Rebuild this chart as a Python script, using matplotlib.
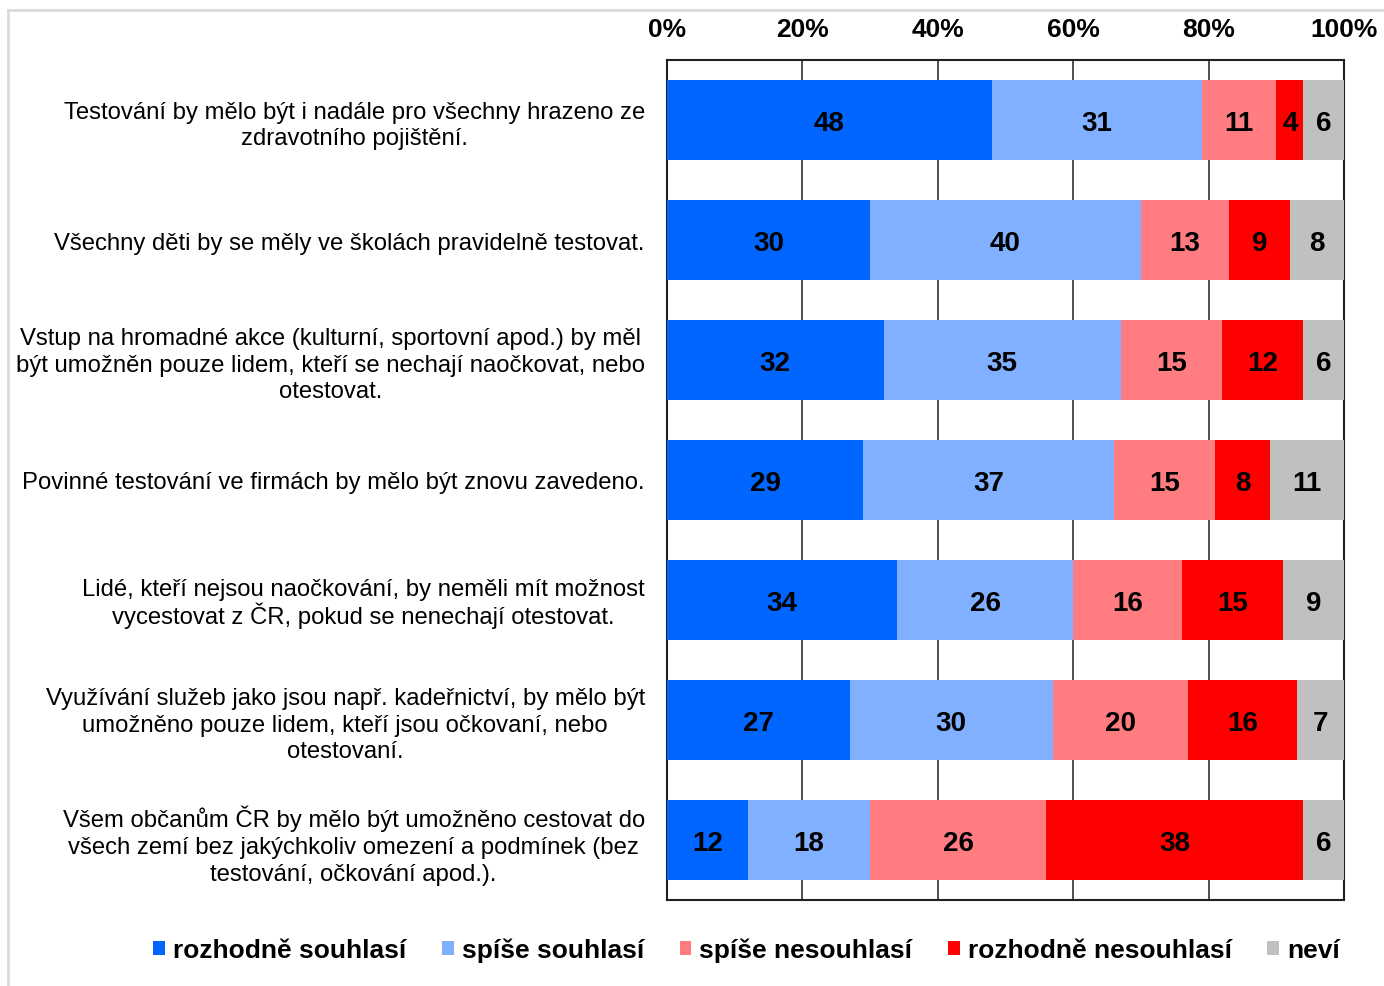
import matplotlib.pyplot as plt
from matplotlib.patches import Patch
from matplotlib.lines import Line2D
import numpy as np

plt.rcParams["font.family"] = ["Liberation Sans", "DejaVu Sans"]

statements = [
    "Testování by mělo být i nadále pro všechny hrazeno ze\nzdravotního pojištění.",
    "Všechny děti by se měly ve školách pravidelně testovat.",
    "Vstup na hromadné akce (kulturní, sportovní apod.) by měl\nbýt umožněn pouze lidem, kteří se nechají naočkovat, nebo\notestovat.",
    "Povinné testování ve firmách by mělo být znovu zavedeno.",
    "Lidé, kteří nejsou naočkování, by neměli mít možnost\nvycestovat z ČR, pokud se nenechají otestovat.",
    "Využívání služeb jako jsou např. kadeřnictví, by mělo být\numožněno pouze lidem, kteří jsou očkovaní, nebo\notestovaní.",
    "Všem občanům ČR by mělo být umožněno cestovat do\nvšech zemí bez jakýchkoliv omezení a podmínek (bez\ntestování, očkování apod.).",
]

answers = ["rozhodně souhlasí", "spíše souhlasí", "spíše nesouhlasí",
           "rozhodně nesouhlasí", "neví"]

definitely_agree = [48, 30, 32, 29, 34, 27, 12]
rather_agree = [31, 40, 35, 37, 26, 30, 18]
rather_disagree = [11, 13, 15, 15, 16, 20, 26]
definitely_disagree = [4, 9, 12, 8, 15, 16, 38]
dont_know = [6, 8, 6, 11, 9, 7, 6]

colors = ["#0066FF", "#80B0FF", "#FF7C80", "#FF0000", "#C0C0C0"]

series = [definitely_agree, rather_agree, rather_disagree,
          definitely_disagree, dont_know]

fig = plt.figure(figsize=(13.84, 9.87), dpi=100)
ax = fig.add_axes([667 / 1384, 1 - 901 / 987, 677 / 1384, 840 / 987])

y = np.arange(len(statements))
left = np.zeros(len(statements))
for vals, col in zip(series, colors):
    vals = np.array(vals, dtype=float)
    ax.barh(y, vals, left=left, height=0.667, color=col, zorder=3)
    for yi, l, v in zip(y, left, vals):
        ax.text(l + v / 2, yi, f"{int(v)}", ha="center", va="center_baseline",
                fontsize=20, fontweight="bold", color="black", zorder=4)
    left += vals

ax.set_xlim(0, 100)
ax.set_ylim(6.5, -0.5)
ax.set_xticks([0, 20, 40, 60, 80, 100])
ax.set_xticklabels(["0%", "20%", "40%", "60%", "80%", "100%"],
                   fontsize=19, fontweight="bold")
ax.xaxis.tick_top()
ax.tick_params(axis="x", length=0, pad=14)
ax.set_yticks(y)
ax.set_yticklabels(statements, fontsize=17.2, linespacing=1.27)
for lbl in ax.get_yticklabels():
    lbl.set_multialignment("center")
    # the capital Č makes the second line taller, so pull it in
    if "\nvycestovat z ČR" in lbl.get_text():
        lbl.set_linespacing(1.08)
ax.tick_params(axis="y", length=0, pad=16)

for gx in [20, 40, 60, 80]:
    ax.axvline(gx, color="#303030", linewidth=1.2, zorder=1)
for s in ax.spines.values():
    s.set_color("#202020")
    s.set_linewidth(1.5)

# light grey frame on the left and top of the picture
fig.add_artist(Line2D([8 / 1384, 8 / 1384], [0, 1 - 11 / 987],
                      color="#D9D9D9", linewidth=2, transform=fig.transFigure))
fig.add_artist(Line2D([8 / 1384, 1], [1 - 11 / 987, 1 - 11 / 987],
                      color="#D9D9D9", linewidth=2, transform=fig.transFigure))

handles = [Patch(facecolor=c, edgecolor="none") for c in colors]
fig.legend(handles, answers, loc="center", bbox_to_anchor=(0.5394, 0.0365),
           ncol=5, frameon=False, handlelength=0.45, handleheight=0.45,
           handletextpad=0.3, columnspacing=1.35,
           prop={"size": 19, "weight": "bold"})

fig.savefig("out.png", dpi=100)
